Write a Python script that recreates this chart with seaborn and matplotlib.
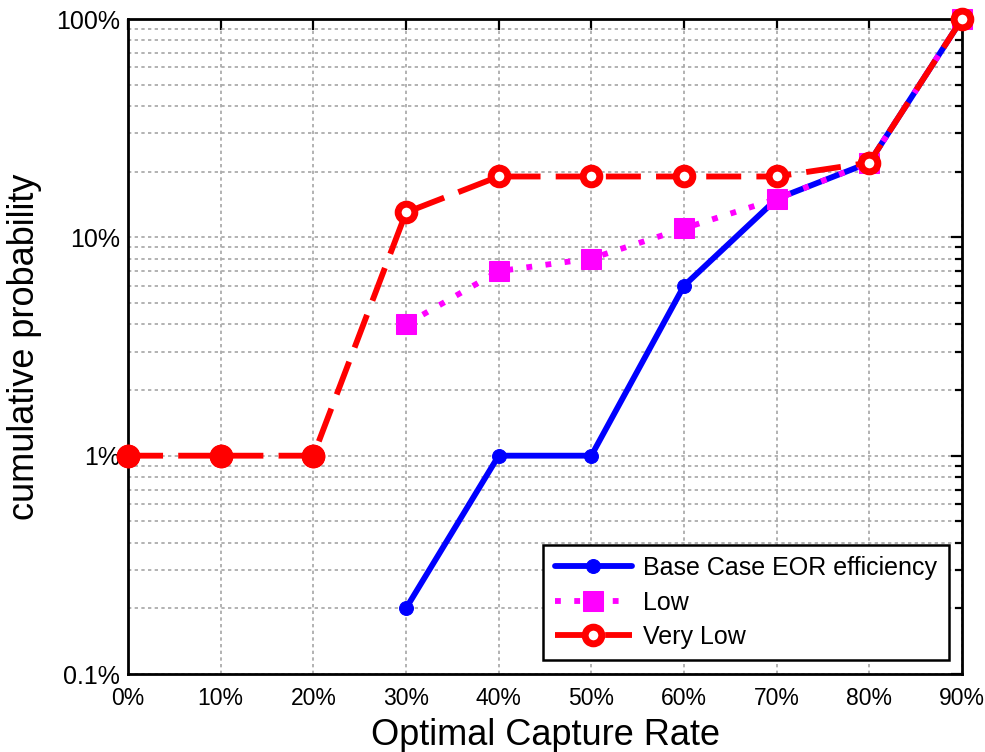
import matplotlib
matplotlib.use("Agg")
import matplotlib.pyplot as plt
import seaborn as sns
import pandas as pd
import numpy as np
from matplotlib.ticker import FixedLocator, LogLocator, NullFormatter, FuncFormatter

x_labels = ["0%", "10%", "20%", "30%", "40%", "50%", "60%", "70%", "80%", "90%"]
x_base = [30, 40, 50, 60, 70, 80, 90]
y_base = [0.2, 1.0, 1.0, 6.0, 15.0, 22.0, 100.0]
x_low = [30, 40, 50, 60, 70, 80, 90]
y_low = [4.0, 7.0, 8.0, 11.0, 15.0, 22.0, 100.0]
x_vlow = [0, 10, 20, 30, 40, 50, 60, 70, 80, 90]
y_vlow = [1.0, 1.0, 1.0, 13.0, 19.0, 19.0, 19.0, 19.0, 22.0, 100.0]
series_names = ["Base Case EOR efficiency", "Low", "Very Low"]

sns.set_theme(style="white")
plt.rcParams['font.family'] = ['Liberation Sans', 'DejaVu Sans']
plt.rcParams['text.color'] = 'black'
plt.rcParams['axes.labelcolor'] = 'black'
plt.rcParams['xtick.color'] = 'black'
plt.rcParams['ytick.color'] = 'black'

fig = plt.figure(figsize=(9.85, 7.52), dpi=100)
ax = fig.add_axes([0.130, 0.1037, 0.8466, 0.871])

df_b = pd.DataFrame({"x": x_base, "y": y_base})
df_l = pd.DataFrame({"x": x_low, "y": y_low})
df_v = pd.DataFrame({"x": x_vlow, "y": y_vlow})

sns.lineplot(data=df_b, x="x", y="y", ax=ax, color="#0000ff", lw=4.2,
             marker="o", markersize=10, markeredgecolor="#0000ff",
             label=series_names[0], zorder=3, clip_on=False)
sns.lineplot(data=df_l, x="x", y="y", ax=ax, color="#ff00ff", lw=4.2,
             linestyle=(0, (1, 2.3)), marker="s", markersize=14,
             markeredgecolor="#ff00ff", label=series_names[1], zorder=4,
             clip_on=False)
sns.lineplot(data=df_v, x="x", y="y", ax=ax, color="#ff0000", lw=4.2,
             linestyle=(0, (6, 2.6)), marker="o", markersize=12,
             markerfacecolor="white", markeredgecolor="#ff0000",
             markeredgewidth=5, label=series_names[2], zorder=5, clip_on=False)
# filled markers at the flat 1% start
mask = np.array(y_vlow) <= 1.0
ax.plot(np.array(x_vlow)[mask], np.array(y_vlow)[mask], linestyle="none",
        marker="o", markersize=16, color="#ff0000", zorder=6, clip_on=False)

ax.set_yscale("log")
ax.set_ylim(0.1, 100)
ax.set_xlim(0, 90)
ax.xaxis.set_major_locator(FixedLocator(list(range(0, 91, 10))))
ax.set_xticklabels(x_labels)
ax.yaxis.set_major_locator(LogLocator(base=10, numticks=10))
ax.yaxis.set_minor_locator(LogLocator(base=10, subs=np.arange(2, 10), numticks=20))
ax.yaxis.set_minor_formatter(NullFormatter())
ax.yaxis.set_major_formatter(FuncFormatter(lambda v, p: (f"{v:g}%")))

ax.grid(True, which="major", axis="both", color="#a6a6a6", linestyle=(0, (2, 2)), lw=1.2)
ax.grid(True, which="minor", axis="y", color="#a6a6a6", linestyle=(0, (2, 2)), lw=1.2)
ax.set_axisbelow(True)

for s in ax.spines.values():
    s.set_color("black")
    s.set_linewidth(2)
    s.set_zorder(2)
ax.tick_params(which="both", direction="in", top=True, right=True, color="black",
               width=1.6)
ax.tick_params(which="major", length=8)
ax.tick_params(which="minor", length=5)
ax.tick_params(axis="y", labelsize=18, pad=6)
ax.tick_params(axis="x", labelsize=16.5, pad=9)

ax.set_xlabel("Optimal Capture Rate", fontsize=26, labelpad=6)
ax.set_ylabel("cumulative probability", fontsize=26, labelpad=10)

leg = ax.legend(loc="lower right", fontsize=18, frameon=True, fancybox=False,
                edgecolor="black", framealpha=1, borderpad=0.45, handlelength=3.1,
                handletextpad=0.45, labelspacing=0.42, borderaxespad=0,
                bbox_to_anchor=(0.984, 0.021))
leg.get_frame().set_linewidth(1.8)

fig.savefig("out.png", dpi=100)
